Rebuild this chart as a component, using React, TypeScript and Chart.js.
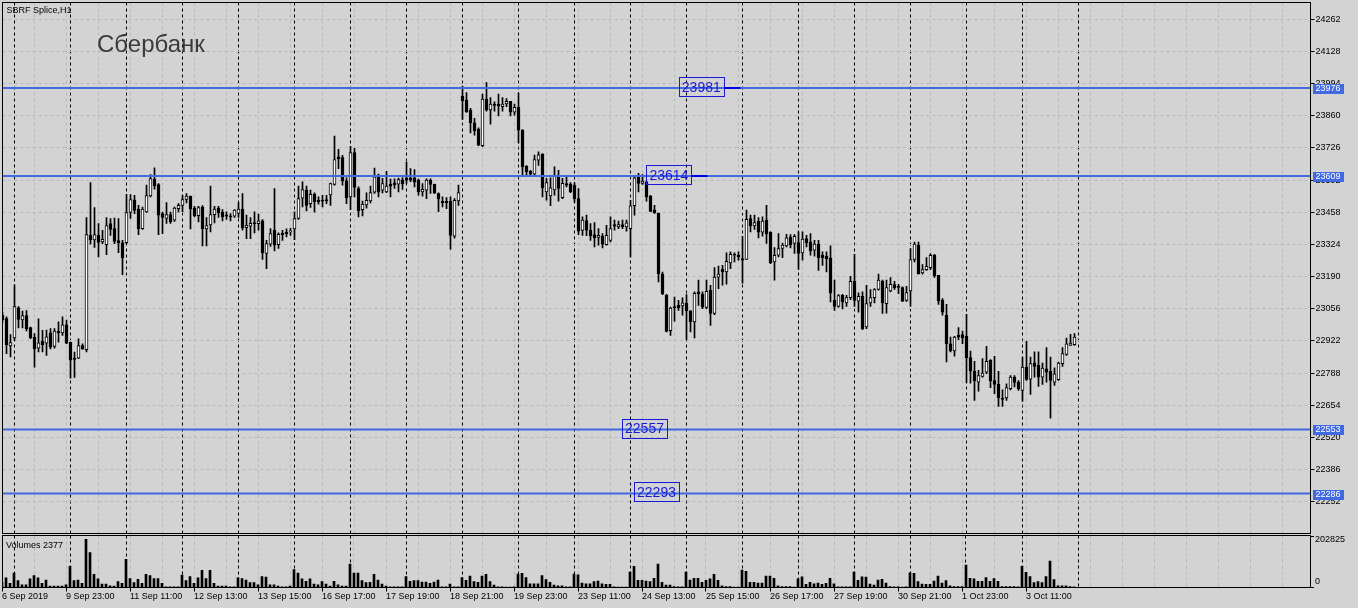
import React, { useEffect, useRef } from "react";
import { Chart, registerables } from "chart.js";

Chart.register(...registerables);

// ---------- data (H1 bars, SBRF Splice) ----------
const openPrices = [
  23030, 23015, 22901, 22934, 23060, 23009, 23028, 22977, 22937, 22892,
  22920, 22913, 22956, 22899, 22962, 22955, 22989, 22916, 22850, 22850,
  22903, 22885, 23362, 23343, 23362, 23334, 23323, 23411, 23390, 23340,
  23331, 23331, 23457, 23510, 23471, 23390, 23459, 23526, 23596, 23573,
  23453, 23432, 23448, 23425, 23473, 23486, 23511, 23525, 23475, 23444,
  23480, 23389, 23405, 23448, 23475, 23458, 23446, 23442, 23442, 23453,
  23471, 23394, 23400, 23415, 23410, 23422, 23286, 23325, 23383, 23323,
  23371, 23375, 23376, 23389, 23432, 23517, 23550, 23494, 23533, 23508,
  23508, 23511, 23530, 23574, 23689, 23686, 23589, 23522, 23707, 23557,
  23469, 23489, 23505, 23542, 23606, 23550, 23543, 23575, 23581, 23575,
  23593, 23601, 23601, 23601, 23592, 23543, 23550, 23592, 23574, 23536,
  23504, 23504, 23504, 23358, 23505, 23942, 23925, 23884, 23831, 23804,
  23735, 23930, 23884, 23909, 23909, 23898, 23909, 23920, 23875, 23895,
  23800, 23650, 23629, 23617, 23675, 23699, 23543, 23526, 23551, 23606,
  23519, 23578, 23574, 23571, 23515, 23382, 23423, 23383, 23365, 23353,
  23358, 23323, 23341, 23407, 23397, 23407, 23397, 23390, 23485, 23608,
  23578, 23585, 23525, 23467, 23454, 23200, 23112, 22965, 23065, 23070,
  23068, 23079, 23047, 23001, 23126, 23116, 23062, 23133, 23036, 23188,
  23220, 23209, 23247, 23283, 23279, 23265, 23262, 23432, 23401, 23421,
  23375, 23425, 23375, 23251, 23279, 23307, 23318, 23355, 23328, 23332,
  23289, 23348, 23335, 23300, 23325, 23279, 23275, 23268, 23091, 23066,
  23112, 23080, 23102, 23170, 23088, 23108, 22980, 23080, 23102, 23136,
  23170, 23077, 23130, 23157, 23150, 23144, 23091, 23130, 23261, 23321,
  23205, 23219, 23227, 23279, 23195, 23091, 23029, 22910, 22880, 22945,
  22948, 22941, 22852, 22795, 22750, 22774, 22792, 22841, 22757, 22741,
  22684, 22684, 22723, 22771, 22749, 22716, 22813, 22763, 22831, 22820,
  22771, 22806, 22795, 22750, 22760, 22827, 22866, 22903, 22906,
];

const highPrices = [
  23040, 23022, 22948, 23156, 23065, 23046, 23048, 22980, 22952, 23014,
  22966, 22967, 22973, 22973, 23001, 23022, 23009, 22916, 22875, 22931,
  22910, 23436, 23582, 23478, 23411, 23383, 23436, 23432, 23434, 23432,
  23341, 23533, 23532, 23529, 23487, 23480, 23571, 23615, 23643, 23578,
  23459, 23498, 23459, 23480, 23494, 23529, 23536, 23525, 23483, 23483,
  23486, 23436, 23567, 23483, 23483, 23469, 23460, 23453, 23469, 23497,
  23536, 23446, 23436, 23460, 23450, 23428, 23341, 23390, 23557, 23372,
  23383, 23389, 23391, 23460, 23567, 23585, 23567, 23550, 23539, 23522,
  23529, 23529, 23580, 23775, 23720, 23695, 23601, 23733, 23724, 23564,
  23505, 23539, 23567, 23642, 23617, 23599, 23629, 23596, 23597, 23600,
  23603, 23667, 23640, 23636, 23596, 23578, 23597, 23597, 23575, 23539,
  23522, 23519, 23522, 23515, 23571, 23984, 23957, 23891, 23849, 23810,
  23950, 23998, 23936, 23918, 23950, 23936, 23932, 23920, 23909, 23956,
  23803, 23653, 23633, 23696, 23710, 23703, 23599, 23601, 23647, 23633,
  23599, 23606, 23582, 23582, 23557, 23439, 23446, 23411, 23415, 23390,
  23369, 23404, 23439, 23425, 23421, 23425, 23425, 23508, 23610, 23620,
  23615, 23588, 23529, 23487, 23455, 23209, 23116, 23063, 23105, 23091,
  23101, 23115, 23048, 23126, 23175, 23126, 23175, 23154, 23227, 23234,
  23237, 23289, 23293, 23289, 23293, 23358, 23467, 23446, 23446, 23436,
  23439, 23487, 23376, 23311, 23369, 23330, 23366, 23365, 23365, 23376,
  23376, 23362, 23369, 23341, 23341, 23293, 23293, 23318, 23175, 23115,
  23116, 23112, 23191, 23283, 23122, 23126, 23154, 23136, 23140, 23200,
  23175, 23175, 23186, 23170, 23158, 23147, 23149, 23307, 23334, 23334,
  23240, 23269, 23286, 23283, 23195, 23098, 23074, 22938, 22941, 22977,
  22963, 23033, 22880, 22837, 22799, 22848, 22899, 22844, 22858, 22795,
  22718, 22743, 22778, 22778, 22757, 22855, 22920, 22855, 22876, 22876,
  22830, 22894, 22855, 22810, 22834, 22894, 22934, 22949, 22952,
];

const lowPrices = [
  23000, 22869, 22855, 22924, 22976, 22976, 22964, 22931, 22813, 22876,
  22876, 22862, 22889, 22892, 22917, 22945, 22910, 22767, 22770, 22848,
  22887, 22876, 23325, 23311, 23272, 23327, 23281, 23362, 23327, 23290,
  23198, 23327, 23432, 23452, 23365, 23387, 23457, 23522, 23554, 23365,
  23369, 23411, 23411, 23420, 23459, 23460, 23497, 23389, 23439, 23418,
  23318, 23318, 23376, 23414, 23436, 23422, 23428, 23422, 23436, 23436,
  23383, 23348, 23348, 23372, 23383, 23261, 23223, 23316, 23297, 23307,
  23341, 23355, 23361, 23344, 23428, 23480, 23464, 23478, 23458, 23492,
  23480, 23494, 23487, 23571, 23640, 23571, 23494, 23469, 23522, 23439,
  23443, 23475, 23497, 23536, 23522, 23539, 23540, 23522, 23557, 23543,
  23553, 23578, 23585, 23564, 23529, 23525, 23515, 23536, 23536, 23460,
  23480, 23473, 23304, 23350, 23487, 23845, 23874, 23789, 23779, 23735,
  23731, 23879, 23825, 23879, 23859, 23879, 23898, 23859, 23863, 23747,
  23615, 23606, 23606, 23608, 23653, 23522, 23508, 23485, 23529, 23504,
  23515, 23564, 23540, 23499, 23365, 23362, 23360, 23341, 23314, 23321,
  23309, 23321, 23334, 23383, 23390, 23390, 23379, 23272, 23446, 23543,
  23574, 23504, 23460, 23453, 23168, 23115, 22959, 22945, 23004, 23049,
  23029, 22927, 22959, 22934, 23070, 23056, 23056, 22987, 23031, 23140,
  23154, 23158, 23223, 23251, 23258, 23163, 23261, 23376, 23386, 23351,
  23358, 23328, 23244, 23175, 23272, 23269, 23314, 23309, 23286, 23220,
  23258, 23314, 23279, 23275, 23216, 23237, 23209, 23084, 23049, 23063,
  23055, 23066, 23094, 23066, 23042, 22969, 22973, 23066, 23080, 23133,
  23036, 23038, 23126, 23136, 23119, 23085, 23087, 23066, 23251, 23200,
  23200, 23216, 23219, 23186, 23074, 23029, 22834, 22876, 22858, 22927,
  22910, 22748, 22746, 22674, 22713, 22771, 22785, 22727, 22702, 22649,
  22649, 22674, 22718, 22730, 22716, 22671, 22757, 22699, 22771, 22732,
  22741, 22750, 22600, 22737, 22757, 22816, 22862, 22903, 22903,
];

const closePrices = [
  23010, 22906, 22915, 23065, 23012, 23027, 22973, 22934, 22889, 22914,
  22906, 22939, 22896, 22963, 22956, 22989, 22913, 22842, 22845, 22902,
  22889, 23365, 23344, 23365, 23332, 23345, 23402, 23387, 23337, 23330,
  23268, 23457, 23511, 23466, 23390, 23471, 23528, 23598, 23568, 23446,
  23436, 23448, 23418, 23475, 23487, 23511, 23525, 23472, 23444, 23478,
  23389, 23403, 23448, 23471, 23455, 23439, 23442, 23439, 23467, 23471,
  23393, 23404, 23412, 23410, 23422, 23290, 23327, 23369, 23321, 23366,
  23365, 23369, 23380, 23432, 23515, 23553, 23486, 23533, 23501, 23501,
  23504, 23505, 23578, 23678, 23681, 23589, 23518, 23707, 23561, 23464,
  23492, 23508, 23540, 23606, 23542, 23578, 23567, 23567, 23572, 23594,
  23576, 23592, 23592, 23583, 23543, 23554, 23592, 23574, 23538, 23514,
  23497, 23497, 23362, 23508, 23540, 23923, 23877, 23831, 23797, 23738,
  23930, 23884, 23909, 23903, 23900, 23909, 23920, 23875, 23895, 23800,
  23647, 23626, 23617, 23678, 23697, 23560, 23582, 23560, 23613, 23557,
  23579, 23571, 23543, 23515, 23379, 23425, 23383, 23360, 23351, 23362,
  23325, 23362, 23390, 23400, 23407, 23398, 23414, 23485, 23601, 23578,
  23588, 23522, 23462, 23455, 23202, 23118, 22962, 23059, 23059, 23059,
  23081, 23048, 23001, 23120, 23118, 23063, 23129, 23036, 23188, 23200,
  23209, 23254, 23283, 23279, 23272, 23258, 23429, 23401, 23415, 23375,
  23421, 23369, 23247, 23279, 23307, 23321, 23351, 23322, 23358, 23286,
  23346, 23330, 23297, 23325, 23268, 23269, 23265, 23122, 23066, 23111,
  23084, 23102, 23170, 23091, 23108, 22973, 23077, 23102, 23136, 23175,
  23080, 23144, 23158, 23144, 23145, 23088, 23123, 23261, 23325, 23202,
  23219, 23233, 23279, 23193, 23088, 23042, 22910, 22880, 22938, 22938,
  22934, 22851, 22796, 22755, 22778, 22788, 22837, 22755, 22741, 22684,
  22678, 22727, 22771, 22749, 22723, 22813, 22762, 22827, 22816, 22771,
  22809, 22792, 22757, 22785, 22830, 22869, 22910, 22913, 22938,
];

const volumes = [
  20000, 37900, 16200, 56800, 27000, 10800, 10800, 33800, 47300, 37900,
  16200, 29700, 5400, 5400, 5400, 5400, 10800, 83800, 27000, 29700,
  16200, 189300, 137900, 51400, 33800, 13500, 13500, 6800, 5400, 23000,
  16200, 110900, 35200, 18900, 32400, 16200, 51400, 47300, 35200, 35200,
  16200, 2700, 2700, 2700, 2700, 48700, 27000, 43300, 16200, 37900,
  67600, 35200, 67600, 16200, 5400, 5400, 5400, 2700, 2700, 37900,
  35200, 29700, 18900, 18900, 10800, 43300, 40600, 10800, 10800, 5400,
  2700, 2700, 5400, 70300, 56800, 33800, 24300, 33800, 13500, 10800,
  23000, 13500, 5400, 24300, 10800, 5400, 5400, 91900, 56800, 56800,
  27000, 18900, 20300, 51400, 29700, 13500, 5400, 2700, 2700, 2700,
  2700, 43300, 24300, 27000, 27000, 21600, 21600, 16200, 21600, 29700,
  2700, 2700, 13500, 2700, 2700, 39200, 28400, 44600, 23000, 20300,
  44600, 51400, 23000, 9500, 2700, 2700, 1000, 1000, 2700, 52700,
  55400, 39200, 14900, 14900, 14900, 47300, 31100, 20300, 9500, 6800,
  6800, 2700, 2700, 52700, 50000, 17600, 14900, 14900, 23000, 25700,
  14900, 12200, 12200, 2700, 1000, 1000, 1000, 60800, 83800, 28400,
  28400, 25700, 23000, 36500, 91900, 20300, 9500, 9500, 4100, 2700,
  2700, 60800, 29700, 36500, 36500, 20300, 28400, 33800, 51400, 28400,
  6800, 4100, 4100, 1000, 1000, 69000, 63500, 20300, 20300, 17600,
  17600, 44600, 44600, 36500, 6800, 4100, 4100, 4100, 1000, 33800,
  41900, 12200, 20300, 14900, 17600, 12200, 16200, 36500, 14900, 2700,
  2700, 2700, 2700, 60800, 28400, 41900, 40600, 13500, 9500, 29700,
  32400, 17600, 4100, 2700, 2700, 1000, 2700, 58100, 55400, 23000,
  13500, 12200, 12200, 25700, 44600, 17600, 27000, 6800, 4100, 4100,
  4100, 87900, 36500, 33800, 24300, 24300, 39200, 24300, 35200, 24300,
  4100, 4100, 4100, 4100, 2700, 83800, 59500, 43300, 18900, 23000,
  18900, 43300, 104100, 31100, 6800, 6800, 6800, 4100, 2377,
];

// time axis labels, one every 16 bars starting at bar 0
const timeLabels = [
  "6 Sep 2019", "9 Sep 23:00", "11 Sep 11:00", "12 Sep 13:00", "13 Sep 15:00",
  "16 Sep 17:00", "17 Sep 19:00", "18 Sep 21:00", "19 Sep 23:00", "23 Sep 11:00",
  "24 Sep 13:00", "25 Sep 15:00", "26 Sep 17:00", "27 Sep 19:00", "30 Sep 21:00",
  "1 Oct 23:00", "3 Oct 11:00",
];
const timeLabelStep = 16;

// price axis tick labels
const priceTicks = [
  22252, 22386, 22520, 22654, 22788, 22922, 23056, 23190,
  23324, 23458, 23592, 23726, 23860, 23994, 24128, 24262,
];
const volumeTicks = [0, 202825];

// day separators (first bar of each trading day)
const daySeparatorBars = [
  3, 17, 31, 45, 59, 73, 87, 101, 115, 129, 143, 157, 171, 185, 199, 213, 227, 241, 255, 269,
];

// horizontal levels and their text labels
const levelValues = [23976, 23609, 22553, 22286];
const levelLabelTexts = ["23981", "23614", "22557", "22293"];
const levelLabelValues = [23981, 23614, 22557, 22293];
const levelLabelBars = [174.7, 166.6, 160.5, 163.5];
const levelLabelTails = [16, 16, 0, 0];

const chartTitle = "SBRF Splice,H1";
const headline = "Сбербанк";
const volumeTitle = "Volumes 2377";

// ---------- styling ----------
const BG = "#d3d3d3";
const GRID = "#b8b8b8";
const LINE_BLUE = "#4169e1";
const TEXT_BLUE = "#1a1ad6";
const FONT = "'Liberation Sans', Arial, sans-serif";
const X_MAX = 327;
const GRID_STEP = 8;
const PRICE_MIN = 22119.5;
const PRICE_MAX = 24332;
const VOLUME_MAX = 204800;

const gridBars: number[] = [];
for (let v = 0; v <= X_MAX; v += GRID_STEP) gridBars.push(v);
const labelBars = timeLabels.map((_, k) => k * timeLabelStep);

function noPad(s: any) {
  s.paddingLeft = 0;
  s.paddingRight = 0;
  s.paddingTop = 0;
  s.paddingBottom = 0;
}
function zeroHeight(s: any) {
  s.height = 0;
  noPad(s);
}

function gridAxes() {
  return {
    xg: {
      type: "linear",
      axis: "x",
      position: "bottom",
      min: 0,
      max: X_MAX,
      bounds: "data",
      offset: false,
      afterBuildTicks: (s: any) => {
        s.ticks = gridBars.map((v) => ({ value: v }));
      },
      afterFit: zeroHeight,
      grid: { display: true, color: GRID, lineWidth: 1, drawTicks: false, offset: false },
      border: { display: false, dash: [3, 3] },
      ticks: { display: false, autoSkip: false },
    },
    xs: {
      type: "linear",
      axis: "x",
      position: "bottom",
      min: 0,
      max: X_MAX,
      bounds: "data",
      offset: false,
      afterBuildTicks: (s: any) => {
        s.ticks = daySeparatorBars.map((v) => ({ value: v }));
      },
      afterFit: zeroHeight,
      grid: { display: true, color: "#000000", lineWidth: 1, drawTicks: false, offset: false },
      border: { display: false, dash: [3, 3] },
      ticks: { display: false, autoSkip: false },
    },
  };
}

function strokeFrame(ctx: CanvasRenderingContext2D, a: any) {
  const L = Math.round(a.left - 0.5) + 0.5;
  const R = Math.round(a.right - 0.5) + 0.5;
  const T = Math.round(a.top - 0.5) + 0.5;
  const B = Math.round(a.bottom - 0.5) + 0.5;
  ctx.strokeStyle = "#000";
  ctx.lineWidth = 1;
  ctx.setLineDash([]);
  ctx.strokeRect(L, T, R - L, B - T);
}

const mainDecor = {
  id: "mainDecor",
  afterDraw(chart: any) {
    const { ctx, chartArea: a, scales } = chart;
    const xS = scales.x;
    const yS = scales.y;
    ctx.save();
    strokeFrame(ctx, a);

    // level text labels
    ctx.font = `14px ${FONT}`;
    ctx.textAlign = "center";
    ctx.textBaseline = "middle";
    levelLabelTexts.forEach((t, k) => {
      const cx = xS.getPixelForValue(levelLabelBars[k]);
      const cy = yS.getPixelForValue(levelLabelValues[k]);
      const w = 45;
      const h = 19;
      const bx = Math.round(cx - w / 2) + 0.5;
      const by = Math.round(cy - h / 2) + 0.5;
      ctx.strokeStyle = TEXT_BLUE;
      ctx.lineWidth = 1;
      ctx.strokeRect(bx, by, w, h);
      ctx.fillStyle = TEXT_BLUE;
      ctx.fillText(t, cx, cy + 1);
      if (levelLabelTails[k] > 0) {
        const ly = Math.round(yS.getPixelForValue(levelValues[k]));
        ctx.fillStyle = "#0000e6";
        ctx.fillRect(bx + w, ly - 1, levelLabelTails[k], 2);
      }
    });

    // price tags on the axis
    ctx.font = `9px ${FONT}`;
    ctx.textAlign = "left";
    ctx.textBaseline = "middle";
    levelValues.forEach((v) => {
      const y = yS.getPixelForValue(v);
      ctx.fillStyle = LINE_BLUE;
      ctx.fillRect(Math.round(a.right) + 2, Math.round(y) - 4, 31, 10);
      ctx.fillStyle = "#ffffff";
      ctx.fillText(String(v), a.right + 5, Math.round(y) + 1);
    });

    // titles
    ctx.textBaseline = "alphabetic";
    ctx.fillStyle = "#000";
    ctx.font = `9px ${FONT}`;
    ctx.fillText(chartTitle, 6.5, 12.5);
    ctx.fillStyle = "#3a3a3a";
    ctx.font = `24px ${FONT}`;
    ctx.fillText(headline, 97, 51.5);
    ctx.restore();
  },
};

const volDecor = {
  id: "volDecor",
  afterDraw(chart: any) {
    const { ctx, chartArea: a, scales } = chart;
    const yS = scales.y;
    ctx.save();
    strokeFrame(ctx, a);
    ctx.fillStyle = "#000";
    ctx.font = `9px ${FONT}`;
    ctx.textAlign = "left";
    ctx.textBaseline = "middle";
    ctx.fillText(String(volumeTicks[1]), a.right + 5, yS.getPixelForValue(volumeTicks[1]) + 4);
    ctx.fillText(String(volumeTicks[0]), a.right + 5, yS.getPixelForValue(volumeTicks[0]) - 6);
    ctx.textBaseline = "alphabetic";
    ctx.fillText(volumeTitle, 6, 13.3);
    ctx.restore();
  },
};

export default function App() {
  const mainRef = useRef<HTMLCanvasElement>(null);
  const volRef = useRef<HTMLCanvasElement>(null);

  useEffect(() => {
    const idx = closePrices.map((_, i) => i);
    const wickData = idx.map((i) => ({ x: i, y: [lowPrices[i], highPrices[i]] }));
    const bodyData = idx.map((i) => ({ x: i, y: [openPrices[i], closePrices[i]] }));
    const bodyColors = idx.map((i) => (closePrices[i] >= openPrices[i] ? "#ffffff" : "#000000"));
    const volData = volumes.map((v, i) => ({ x: i, y: v }));

    const levelDatasets = levelValues.map((v) => ({
      type: "line",
      data: [
        { x: 0, y: v },
        { x: X_MAX, y: v },
      ],
      borderColor: LINE_BLUE,
      borderWidth: 2,
      pointRadius: 0,
      fill: false,
      order: 0,
      xAxisID: "x",
      yAxisID: "y",
    }));

    const main = new Chart(mainRef.current as HTMLCanvasElement, {
      type: "bar",
      data: {
        datasets: [
          ...levelDatasets,
          {
            type: "bar",
            data: bodyData,
            backgroundColor: bodyColors,
            borderColor: "#000000",
            borderWidth: 1,
            borderSkipped: false,
            barThickness: 3,
            minBarLength: 1,
            grouped: false,
            order: 1,
            xAxisID: "x",
            yAxisID: "y",
          },
          {
            type: "bar",
            data: wickData,
            backgroundColor: "#000000",
            borderWidth: 0,
            barThickness: 1,
            grouped: false,
            order: 2,
            xAxisID: "x",
            yAxisID: "y",
          },
        ] as any,
      },
      options: {
        animation: false,
        responsive: false,
        devicePixelRatio: 1,
        layout: { padding: { left: 2.5, top: 2.5, right: 0, bottom: 1.5 } },
        plugins: { legend: { display: false }, tooltip: { enabled: false } },
        scales: {
          x: {
            type: "linear",
            position: "bottom",
            min: 0,
            max: X_MAX,
            bounds: "data",
            offset: false,
            afterFit: zeroHeight,
            grid: { display: false, offset: false },
            border: { display: false },
            ticks: { display: false },
          },
          ...gridAxes(),
          y: {
            type: "linear",
            position: "right",
            min: PRICE_MIN,
            max: PRICE_MAX,
            bounds: "data",
            afterBuildTicks: (s: any) => {
              s.ticks = priceTicks.map((v) => ({ value: v }));
            },
            afterFit: (s: any) => {
              s.width = 47.5;
              noPad(s);
            },
            grid: { color: GRID, lineWidth: 1, tickColor: "#000000", tickLength: 4, drawTicks: true },
            border: { display: false, dash: [3, 3] },
            ticks: {
              color: "#000000",
              font: { family: FONT, size: 9 },
              padding: 1,
              autoSkip: false,
              callback: (v: any) => String(v),
            },
          },
        } as any,
      },
      plugins: [mainDecor],
    });

    const vol = new Chart(volRef.current as HTMLCanvasElement, {
      type: "bar",
      data: {
        datasets: [
          {
            data: volData,
            backgroundColor: "#000000",
            borderWidth: 0,
            barThickness: 2,
            grouped: false,
            xAxisID: "x",
            yAxisID: "y",
          },
        ] as any,
      },
      options: {
        animation: false,
        responsive: false,
        devicePixelRatio: 1,
        layout: { padding: { left: 2, top: 0.5, right: 0, bottom: 0 } },
        plugins: { legend: { display: false }, tooltip: { enabled: false } },
        scales: {
          x: {
            type: "linear",
            position: "bottom",
            min: 0,
            max: X_MAX,
            bounds: "data",
            offset: false,
            afterBuildTicks: (s: any) => {
              s.ticks = labelBars.map((v) => ({ value: v }));
            },
            afterFit: (s: any) => {
              s.height = 20.5;
              noPad(s);
            },
            grid: {
              display: true,
              drawOnChartArea: false,
              drawTicks: true,
              tickLength: 4,
              color: "#000000",
              offset: false,
            },
            border: { display: false },
            ticks: {
              autoSkip: false,
              maxRotation: 0,
              minRotation: 0,
              align: "start",
              padding: 0,
              color: "#000000",
              font: { family: FONT, size: 9 },
              callback: (_v: any, i: number) => timeLabels[i] ?? "",
            },
          },
          ...gridAxes(),
          y: {
            type: "linear",
            position: "right",
            min: 0,
            max: VOLUME_MAX,
            bounds: "data",
            afterBuildTicks: (s: any) => {
              s.ticks = volumeTicks.map((v) => ({ value: v }));
            },
            afterFit: (s: any) => {
              s.width = 48;
              noPad(s);
            },
            grid: { drawOnChartArea: false, drawTicks: true, tickLength: 4, color: "#000000" },
            border: { display: false },
            ticks: { display: false, autoSkip: false },
          },
        } as any,
      },
      plugins: [volDecor],
    });

    return () => {
      main.destroy();
      vol.destroy();
    };
  }, []);

  return (
    <div
      style={{
        position: "absolute",
        left: 0,
        top: 0,
        width: 1358,
        height: 608,
        background: BG,
        overflow: "hidden",
      }}
    >
      <canvas
        ref={mainRef}
        width={1358}
        height={535}
        style={{ position: "absolute", left: 0, top: 0, width: 1358, height: 535 }}
      />
      <canvas
        ref={volRef}
        width={1358}
        height={73}
        style={{ position: "absolute", left: 0, top: 535, width: 1358, height: 73 }}
      />
    </div>
  );
}
